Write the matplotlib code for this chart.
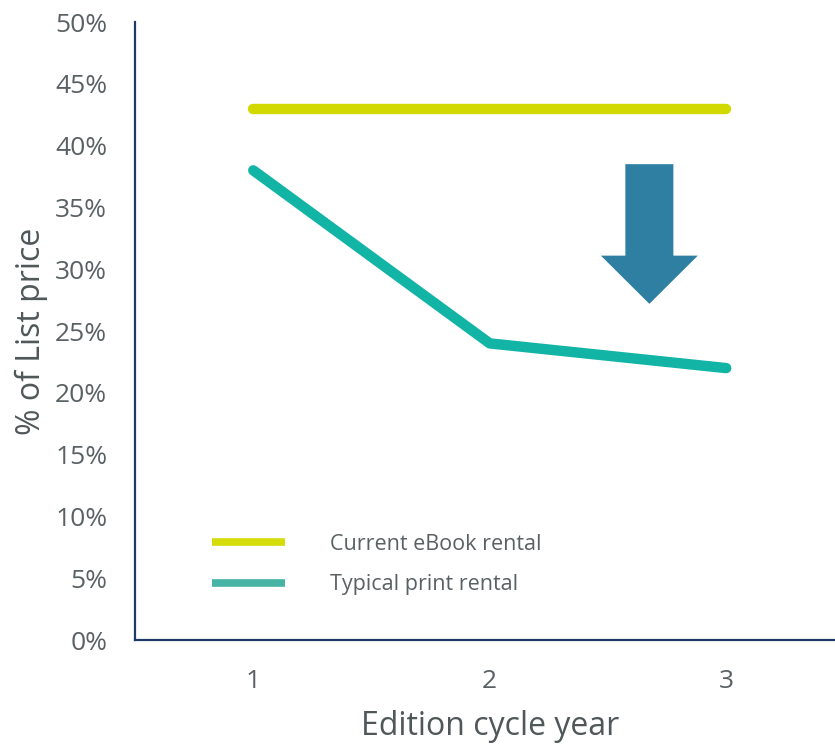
import matplotlib.pyplot as plt
from matplotlib.lines import Line2D
from matplotlib.patches import FancyArrow
from matplotlib.ticker import FuncFormatter

plt.rcParams['font.family'] = ['Open Sans', 'DejaVu Sans']

# Edition cycle years and rental price as % of list price
years = [1, 2, 3]
ebook_rental = [43, 43, 43]
print_rental = [38, 24, 22]
series_labels = ['Current eBook rental', 'Typical print rental']
y_ticks = list(range(0, 51, 5))

ebook_color = '#D2D900'
print_color = '#12B4A5'
arrow_color = '#2E7FA1'
text_color = '#5A6164'
spine_color = '#1F3A68'

fig = plt.figure(figsize=(8.35, 7.47), dpi=100)
ax = fig.add_axes([0.1617, 0.1432, 0.8383, 0.8273])

ax.plot(years, ebook_rental, color=ebook_color, lw=7.5, solid_capstyle='round')
ax.plot(years, print_rental, color=print_color, lw=7.5, solid_capstyle='round',
        solid_joinstyle='round')

# downward arrow showing the price drop
ax.add_patch(FancyArrow(2.675, 38.5, 0, -11.3, width=0.203, head_width=0.41,
                        head_length=3.9, length_includes_head=True,
                        color=arrow_color, lw=0))

ax.set_xlim(0.5, 3.46)
ax.set_ylim(0, 50)
ax.set_xticks(years)
ax.set_yticks(y_ticks)
ax.yaxis.set_major_formatter(FuncFormatter(lambda v, p: f'{v:.0f}%'))
ax.tick_params(length=0, labelsize=19, colors=text_color)
ax.tick_params(axis='y', pad=20)
ax.tick_params(axis='x', pad=21)

for side in ['top', 'right']:
    ax.spines[side].set_visible(False)
for side in ['left', 'bottom']:
    ax.spines[side].set_color(spine_color)
    ax.spines[side].set_linewidth(1.6)

ax.set_ylabel('% of List price', fontsize=23, color='#4F5759', labelpad=5)
ax.set_xlabel('Edition cycle year', fontsize=23, color='#4F5759')
# centre the x label under the middle year
ax.xaxis.set_label_coords((2 - 0.5) / (3.46 - 0.5), -0.113)

handles = [Line2D([], [], color='#D4DC0A', lw=5.5, solid_capstyle='butt'),
           Line2D([], [], color='#47B3A5', lw=5.5, solid_capstyle='butt')]
fig.legend(handles, series_labels, loc='upper left',
           bbox_to_anchor=(212 / 835, 1 - 534 / 747), frameon=False,
           fontsize=15.5, labelcolor=text_color, handlelength=3.4,
           handletextpad=2.1, labelspacing=0.9, borderpad=0, borderaxespad=0)

fig.savefig('out.png', dpi=100)
